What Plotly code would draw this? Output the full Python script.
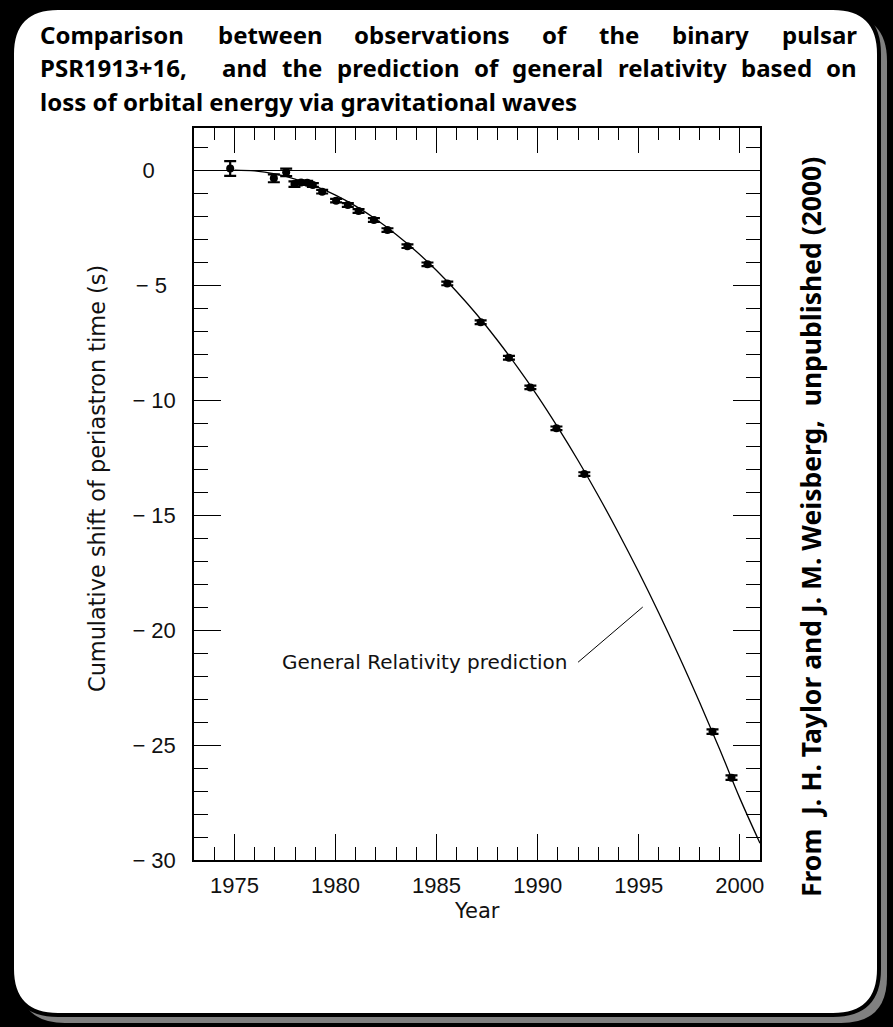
import plotly.graph_objects as go

# ---------------- data ----------------
obs_year = [1974.79, 1976.95, 1977.56, 1977.97, 1978.30, 1978.60, 1978.88, 1979.34,
            1980.03, 1980.61, 1981.14, 1981.90, 1982.57, 1983.56, 1984.55, 1985.53,
            1987.18, 1988.58, 1989.64, 1990.93, 1992.31, 1998.65, 1999.59]
obs_shift = [0.07, -0.36, -0.10, -0.61, -0.54, -0.55, -0.65, -0.94,
             -1.33, -1.52, -1.78, -2.17, -2.61, -3.31, -4.10, -4.93,
             -6.62, -8.16, -9.45, -11.23, -13.22, -24.42, -26.42]
obs_err = [0.32, 0.17, 0.16, 0.12, 0.08, 0.08, 0.08, 0.08,
           0.08, 0.08, 0.08, 0.08, 0.08, 0.08, 0.08, 0.08,
           0.08, 0.08, 0.08, 0.08, 0.08, 0.10, 0.10]

gr_year = [1975, 1976, 1977, 1978, 1979, 1980, 1981, 1982, 1983, 1984, 1985, 1986,
           1987, 1988, 1989, 1990, 1991, 1992, 1993, 1994, 1995, 1996, 1997, 1998,
           1999, 2000, 2001]
gr_shift = [0.0, -0.04, -0.17, -0.39, -0.70, -1.09, -1.57, -2.14, -2.80, -3.54, -4.37, -5.29,
            -6.29, -7.39, -8.57, -9.83, -11.19, -12.63, -14.16, -15.78, -17.48, -19.27, -21.15, -23.12,
            -25.17, -27.31, -29.27]

x_ticks = [1975, 1980, 1985, 1990, 1995, 2000]
y_ticks = [0, -5, -10, -15, -20, -25, -30]

title_line1 = ["Comparison", "between", "observations", "of", "the", "binary", "pulsar"]
title_line2 = ["PSR1913+16,", "and", "the", "prediction", "of", "general", "relativity", "based", "on"]
title_line3 = "loss of orbital energy via gravitational waves"
credit = "From  J. H. Taylor and J. M. Weisberg,  unpublished (2000)"
ytitle = "Cumulative shift of periastron time (s)"
xtitle = "Year"
gr_label = "General Relativity prediction"

# ---------------- layout helpers ----------------
W, H = 893, 1027
def px(x):
    return x / W
def py(y):
    return 1 - y / H

def rrect(x0, y0, x1, y1, r):
    X0, X1 = px(x0), px(x1)
    Y0, Y1 = py(y0), py(y1)
    rx, ry = r / W, r / H
    return (f"M {X0+rx},{Y0} L {X1-rx},{Y0} Q {X1},{Y0} {X1},{Y0-ry} "
            f"L {X1},{Y1+ry} Q {X1},{Y1} {X1-rx},{Y1} "
            f"L {X0+rx},{Y1} Q {X0},{Y1} {X0},{Y1+ry} "
            f"L {X0},{Y0-ry} Q {X0},{Y0} {X0+rx},{Y0} Z")

# approximate advance widths (per 1000 em) of Noto Sans Bold, for justification
ADV = dict(a=561, b=615, c=480, d=615, e=564, f=344, g=615, h=640, i=285, l=285, m=952,
           n=640, o=605, p=615, r=434, s=477, t=392, u=640, v=555, w=809, y=555,
           C=632, P=618, S=534, R=654)
TSIZE = 24
def wwidth(word):
    return sum(ADV.get(ch, 572) for ch in word) * TSIZE / 1000 * 1.04

def justify(words, x0, x1, first_extra=0.0):
    tot = sum(wwidth(w) for w in words)
    gap = (x1 - x0 - tot - first_extra) / (len(words) - 1)
    pos, x = [], x0
    for k, w in enumerate(words):
        pos.append(x)
        x += wwidth(w) + gap + (first_extra if k == 0 else 0)
    return pos

AX_FONT = dict(family="Liberation Sans, Arial, sans-serif", size=22, color="#111")
LBL_FONT = dict(family="DejaVu Sans, sans-serif", size=22, color="#111")
TITLE_FONT = dict(family="Noto Sans, sans-serif", size=TSIZE, color="black")

# y tick labels centred like the original (wide minus, padded with figure spaces)
FS, TS = "\u2007", "\u2009"
def ylabel(v):
    if v == 0:
        return "0" + FS + TS + TS
    s = "\u2212 " + str(abs(v))
    return s if abs(v) >= 10 else s + TS + TS
y_ticktext = [ylabel(v) for v in y_ticks]

fig = go.Figure()
fig.add_trace(go.Scatter(
    x=gr_year, y=gr_shift, mode="lines",
    line=dict(color="black", width=1.3, shape="spline"),
    hoverinfo="skip", showlegend=False))
fig.add_trace(go.Scatter(
    x=obs_year, y=obs_shift, mode="markers",
    marker=dict(color="black", size=8, symbol="circle"),
    error_y=dict(type="data", array=obs_err, color="black", thickness=2.2, width=6),
    showlegend=False))

shapes = [
    dict(type="path", xref="paper", yref="paper", layer="below",
         path=rrect(19, 15, 887, 1023, 46), fillcolor="#808080", line=dict(width=0)),
    dict(type="path", xref="paper", yref="paper", layer="below",
         path=rrect(12, 8, 879, 1015, 46), fillcolor="white",
         line=dict(color="black", width=4)),
    dict(type="line", xref="x", yref="y", x0=1992.0, y0=-21.4, x1=1995.2, y1=-19.0,
         line=dict(color="black", width=1)),
]

annotations = []
for word, xp in zip(title_line1, justify(title_line1, 38, 855)):
    annotations.append(dict(text=f"<b>{word}</b>", x=px(xp), y=py(34), xref="paper", yref="paper",
                            xanchor="left", yanchor="middle", showarrow=False, font=TITLE_FONT))
for word, xp in zip(title_line2, justify(title_line2, 38, 855, first_extra=8)):
    annotations.append(dict(text=f"<b>{word}</b>", x=px(xp), y=py(68), xref="paper", yref="paper",
                            xanchor="left", yanchor="middle", showarrow=False, font=TITLE_FONT))
annotations.append(dict(text=f"<b>{title_line3}</b>", x=px(38), y=py(101),
                        xref="paper", yref="paper", xanchor="left", yanchor="middle",
                        showarrow=False, font=TITLE_FONT))
annotations.append(dict(text=ytitle, x=px(97), y=py(479), xref="paper", yref="paper",
                        xanchor="center", yanchor="middle",
                        textangle=-90, showarrow=False, font=dict(LBL_FONT, size=22.4)))
annotations.append(dict(text=xtitle, x=px(477), y=py(911), xref="paper", yref="paper",
                        xanchor="center", yanchor="middle",
                        showarrow=False, font=dict(LBL_FONT, size=21)))
annotations.append(dict(text=f"<b>{credit.replace('  ', '&nbsp; ')}</b>", x=px(811), y=py(527),
                        xref="paper", yref="paper", xanchor="center", yanchor="middle",
                        textangle=-90, showarrow=False,
                        font=dict(family="Noto Sans, sans-serif", size=26.5, color="black")))
annotations.append(dict(text=gr_label, x=1984.4, y=-21.4, xref="x", yref="y",
                        xanchor="center", yanchor="middle",
                        showarrow=False, font=dict(LBL_FONT, size=20)))

fig.update_layout(
    width=W, height=H, autosize=False,
    margin=dict(l=0, r=0, t=0, b=0, pad=0, autoexpand=False),
    paper_bgcolor="black", plot_bgcolor="white",
    shapes=shapes, annotations=annotations,
    xaxis=dict(domain=[px(194), px(760)], range=[1973, 2001], tickvals=x_ticks,
               ticks="inside", ticklen=26, tickwidth=1.3, tickcolor="black",
               minor=dict(dtick=1, tick0=1973, ticks="inside", ticklen=13,
                          tickwidth=1.3, tickcolor="black"),
               showline=True, linecolor="black", linewidth=1.5, mirror="ticks",
               showgrid=False, zeroline=False, tickfont=AX_FONT, ticklabelstandoff=5,
               automargin=False),
    yaxis=dict(domain=[py(860), py(127.5)], range=[-30, 1.85], tickvals=y_ticks,
               ticktext=y_ticktext,
               ticks="inside", ticklen=27, tickwidth=1.3, tickcolor="black",
               minor=dict(dtick=1, tick0=0, ticks="inside", ticklen=14,
                          tickwidth=1.3, tickcolor="black"),
               showline=True, linecolor="black", linewidth=1.5, mirror="ticks",
               showgrid=False, zeroline=True, zerolinecolor="black", zerolinewidth=1.2,
               tickfont=AX_FONT, ticklabelstandoff=12, automargin=False),
)

fig.write_html("out.html", config={"displayModeBar": False},
               post_script="document.body.style.margin='0';document.body.style.background='black';")
